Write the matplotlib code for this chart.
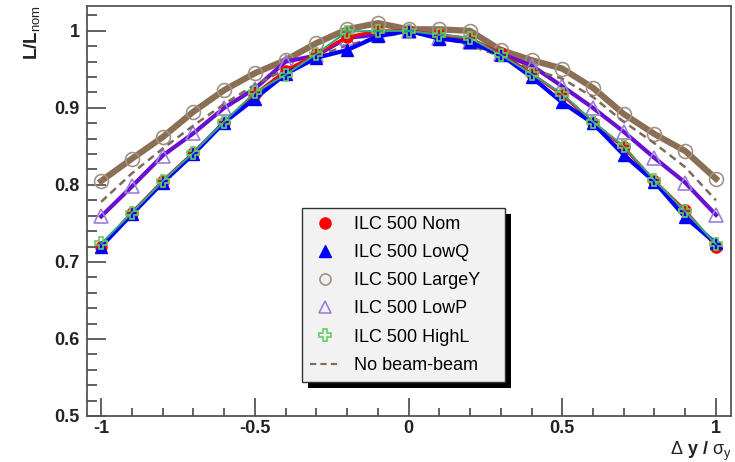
import numpy as np
import matplotlib
matplotlib.use('Agg')
import matplotlib.pyplot as plt
from matplotlib.patches import Rectangle
from matplotlib.lines import Line2D
from matplotlib.ticker import MultipleLocator

plt.rcParams['font.family'] = ['Liberation Sans', 'DejaVu Sans']
plt.rcParams['mathtext.fontset'] = 'custom'
plt.rcParams['mathtext.rm'] = 'Liberation Sans'
plt.rcParams['mathtext.it'] = 'Liberation Sans'

# beam offset in units of sigma_y
dy = [-1.0, -0.9, -0.8, -0.7, -0.6, -0.5, -0.4, -0.3, -0.2, -0.1, 0.0,
      0.1, 0.2, 0.3, 0.4, 0.5, 0.6, 0.7, 0.8, 0.9, 1.0]

nom = [0.720, 0.764, 0.805, 0.842, 0.881, 0.918, 0.948, 0.970, 0.992, 1.000, 1.000,
       0.995, 0.990, 0.971, 0.944, 0.917, 0.881, 0.849, 0.805, 0.767, 0.720]
lowq = [0.720, 0.762, 0.803, 0.840, 0.881, 0.912, 0.944, 0.965, 0.975, 0.993, 1.000,
        0.990, 0.985, 0.969, 0.940, 0.907, 0.880, 0.839, 0.804, 0.758, 0.724]
largey = [0.805, 0.834, 0.862, 0.895, 0.923, 0.945, 0.962, 0.984, 1.002, 1.010, 1.002,
          1.002, 1.000, 0.975, 0.962, 0.951, 0.926, 0.892, 0.866, 0.844, 0.808]
lowp = [0.759, 0.798, 0.838, 0.867, 0.900, 0.925, 0.960, 0.968, 0.991, 0.995, 1.000,
        0.991, 0.986, 0.970, 0.955, 0.928, 0.900, 0.869, 0.835, 0.803, 0.761]
highl = [0.724, 0.764, 0.805, 0.842, 0.882, 0.920, 0.943, 0.970, 0.999, 1.000, 1.000,
         0.995, 0.991, 0.969, 0.944, 0.918, 0.882, 0.850, 0.806, 0.766, 0.723]
nobb = [0.778, 0.815, 0.847, 0.877, 0.905, 0.930, 0.950, 0.967, 0.981, 0.992, 0.998,
        0.992, 0.981, 0.967, 0.950, 0.938, 0.914, 0.882, 0.854, 0.823, 0.780]

labels = ['ILC 500 Nom', 'ILC 500 LowQ', 'ILC 500 LargeY', 'ILC 500 LowP',
          'ILC 500 HighL', 'No beam-beam']

fig = plt.figure(figsize=(7.35, 4.62), dpi=100)
ax = fig.add_axes([0.118, 0.0996, 0.877, 0.887])

ax.plot(dy, nom, color='red', lw=2.2, marker='o', ms=8, mfc='red', mec='red', zorder=3)
ax.plot(dy, lowq, color='#0000ff', lw=3, marker='^', ms=8, mfc='#0000ff', mec='#0000ff',
        zorder=3)
ax.plot(dy, largey, color='#8b6f55', lw=4.5, marker='o', ms=10, mfc='none', mec='#a09385',
        mew=1.2, zorder=2)
ax.plot(dy, lowp, color='#6a0fd0', lw=3, marker='^', ms=10, mfc='none', mec='#9a80d8',
        mew=1.2, zorder=2)
ax.plot(dy, highl, color='#3aa57a', lw=1.5, marker='P', ms=9, mfc='none', mec='#66cc66',
        mew=1.2, zorder=4)
ax.plot(dy, nobb, color='#7d6a5a', lw=1.8, ls=(0, (3, 2)), zorder=2)

ax.set_xlim(-1.047, 1.05)
ax.set_ylim(0.5, 1.032)
ax.xaxis.set_minor_locator(MultipleLocator(0.1))
ax.yaxis.set_minor_locator(MultipleLocator(0.02))
ax.set_xticks([-1, -0.5, 0, 0.5, 1])
ax.set_xticklabels(['-1', '-0.5', '0', '0.5', '1'])
ax.set_yticks([0.5, 0.6, 0.7, 0.8, 0.9, 1.0])
ax.set_yticklabels(['0.5', '0.6', '0.7', '0.8', '0.9', '1'])
ax.tick_params(which='both', direction='in', color='#555555', width=1.3,
               top=False, right=False, labelsize=13)
ax.tick_params(axis='y', which='major', length=14, pad=5)
ax.tick_params(axis='y', which='minor', length=7)
ax.tick_params(axis='x', which='major', length=13, pad=3)
ax.tick_params(axis='x', which='minor', length=6)
for lab in ax.get_xticklabels() + ax.get_yticklabels():
    lab.set_fontweight('bold')
    lab.set_color('#222222')
for s in ax.spines.values():
    s.set_color('#555555')
    s.set_linewidth(1.3)

fig.text(0.043, 0.99, r'L/L$_{\rm nom}$', rotation=90, ha='center', va='top',
         fontsize=13.5, fontweight='bold', color='#222222')
fig.text(0.995, 0.016, r'$\Delta$ y / $\sigma_{\rm y}$', ha='right', va='baseline',
         fontsize=13, fontweight='bold', color='#222222')

# legend shows markers only, as in ROOT "p" option
handles = [
    Line2D([], [], ls='none', marker='o', ms=8, mfc='red', mec='red'),
    Line2D([], [], ls='none', marker='^', ms=8, mfc='#0000ff', mec='#0000ff'),
    Line2D([], [], ls='none', marker='o', ms=8, mfc='none', mec='#a09385', mew=1.2),
    Line2D([], [], ls='none', marker='^', ms=8, mfc='none', mec='#9a80d8', mew=1.2),
    Line2D([], [], ls='none', marker='P', ms=9, mfc='none', mec='#66cc66', mew=1.2),
    Line2D([], [], color='#7d6a5a', lw=1.5, ls=(0, (3, 2))),
]
leg = ax.legend(handles, labels, loc='lower left',
                bbox_to_anchor=(0.334, 0.083, 0.315, 0.419),
                mode='expand', fontsize=13, frameon=True, fancybox=False,
                borderpad=0.45, labelspacing=0.62, handlelength=1.7, handletextpad=0.75,
                borderaxespad=0)
leg.get_frame().set_facecolor('#f2f2f2')
leg.get_frame().set_edgecolor('#333333')
leg.get_frame().set_linewidth(1.0)
leg.get_frame().set_alpha(1)
leg.set_zorder(10)

# drop shadow behind legend box, like ROOT
fig.canvas.draw()
bb = leg.get_frame().get_window_extent().transformed(ax.transAxes.inverted())
off_x = 6 / (0.877 * 735)
off_y = 6 / (0.887 * 462)
ax.add_patch(Rectangle((bb.x0 + off_x, bb.y0 - off_y), bb.width, bb.height,
                       transform=ax.transAxes, facecolor='black', edgecolor='none',
                       zorder=9))

fig.savefig('out.png', dpi=100)
